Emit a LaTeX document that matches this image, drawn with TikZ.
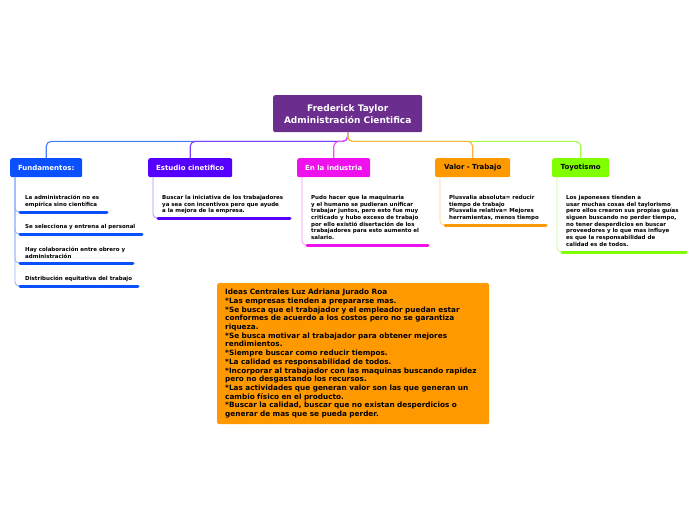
\documentclass[tikz,border=0pt]{standalone}
\usepackage{fontspec}
\setmainfont{DejaVu Sans}
\usetikzlibrary{positioning}
\definecolor{craiz}{HTML}{6B2D8E}
\definecolor{cfund}{HTML}{0A50FF}
\definecolor{cest}{HTML}{5500FF}
\definecolor{cind}{HTML}{EE11EE}
\definecolor{cval}{HTML}{FF9900}
\definecolor{ctoy}{HTML}{80FF00}
\tikzset{
	tema/.style={anchor=north west, rounded corners=2pt, minimum height=19pt, inner sep=0pt, font=\fontsize{7}{8}\selectfont\bfseries},
	hoja/.style={anchor=north west, inner sep=0pt, align=left, font=\fontsize{5.5}{6.7}\selectfont\bfseries},
	rama/.style={draw=#1!75!white, line width=1.1pt, rounded corners=5pt},
	subrama/.style={draw=#1!45!white, line width=.8pt, rounded corners=4pt},
	rayita/.style={draw=#1, line width=3pt, line cap=round}
}
\begin{document}
\begin{tikzpicture}[x=1pt, y=-1pt, line join=round]
	\useasboundingbox[fill=white] (0,0) rectangle (696,520);
	\node[tema, fill=craiz, text=white, minimum width=149pt, minimum height=37pt, align=center, font=\fontsize{9}{12}\selectfont\bfseries] (raiz) at (273,95) {Frederick Taylor\\Administración Cientifica};
	\node[tema, fill=cfund, text=white, minimum width=72pt] (fund) at (10,158) {Fundamentos:};
	\node[tema, fill=cest, text=white, minimum width=84pt] (est) at (148,158) {Estudio cinetifico};
	\node[tema, fill=cind, text=white, minimum width=73pt] (ind) at (297,158) {En la industria};
	\node[tema, fill=cval, text=black, minimum width=75pt] (val) at (435,158) {Valor - Trabajo};
	\node[tema, fill=ctoy, text=black, minimum width=57pt] (toy) at (552,158) {Toyotismo};
	\foreach \c/\col in {fund/cfund,est/cest,ind/cind,toy/ctoy,val/cval}
	\draw[rama=\col] (raiz.south) -- ++(0,9) -| (\c.north);
	\foreach \n/\y/\u/\e/\t in {
		f1/195/212/107/{La administración no es\\empírica sino científica},
		f2/224/234/142/{Se selecciona y entrena al personal},
		f3/247/263/133/{Hay colaboración entre obrero y\\administración},
		f4/276/286/138/{Distribución equitativa del trabajo}}
	{
		\node[hoja] (\n) at (25,\y) {\t};
		\coordinate (\n-a) at (20,\u);
		\coordinate (\n-b) at (\e,\u);
		\draw[subrama=cfund] ([xshift=5pt]fund.south west) |- (\n-a);
		\draw[rayita=cfund] (\n-a) -- (\n-b);
	}
	\foreach \n/\p/\col/\x/\u/\e/\t in {
		e1/est/cest/162/218/290/{Buscar la iniciativa de los trabajadores\\ya sea con incentivos pero que ayude\\a la mejora de la empresa.},
		i1/ind/cind/311/245/428/{Pudo hacer que la maquinaria\\y el humano se pudieran unificar\\trabajar juntos, pero esto fue muy\\criticado y hubo exceso de trabajo\\por ello existió disertación de los\\trabajadores para esto aumento el\\salario.},
		v1/val/cval/449/225/546/{Plusvalia absoluta= reducir\\tiempo de trabajo\\Plusvalia relativa= Mejores\\herramientas, menos tiempo},
		t1/toy/ctoy/566/252/686/{Los japoneses tienden a\\usar muchas cosas del taylorismo\\pero ellos crearon sus propias guías\\siguen buscando no perder tiempo,\\no tener desperdicios en buscar\\proveedores y lo que mas influye\\es que la responsabilidad de\\calidad es de todos.}}
	{
		\node[hoja] (\n) at (\x,195) {\t};
		\coordinate (\n-a) at (\x-4,\u);
		\coordinate (\n-b) at (\e,\u);
		\draw[subrama=\col] ([xshift=5pt]\p.south west) |- (\n-a);
		\draw[rayita=\col] (\n-a) -- (\n-b);
	}
	\node[anchor=north west, fill=cval, rounded corners=2pt, minimum width=272pt, minimum height=141pt, inner xsep=8pt, inner ysep=0pt, text width=256pt, align=left, font=\fontsize{7.3}{8.7}\selectfont\bfseries] (ideas) at (217,283) {Ideas Centrales Luz Adriana Jurado Roa\\{}%
		*Las empresas tienden a prepararse mas.\\{}%
		*Se busca que el trabajador y el empleador puedan estar\\
		conformes de acuerdo a los costos pero no se garantiza\\
		riqueza.\\{}%
		*Se busca motivar al trabajador para obtener mejores\\
		rendimientos.\\{}%
		*Siempre buscar como reducir tiempos.\\{}%
		*La calidad es responsabilidad de todos.\\{}%
		*Incorporar al trabajador con las maquinas buscando rapidez\\
		pero no desgastando los recursos.\\{}%
		*Las actividades que generan valor son las que generan un\\
		cambio físico en el producto.\\{}%
		*Buscar la calidad, buscar que no existan desperdicios o\\
		generar de mas que se pueda perder.};
\end{tikzpicture}
\end{document}
